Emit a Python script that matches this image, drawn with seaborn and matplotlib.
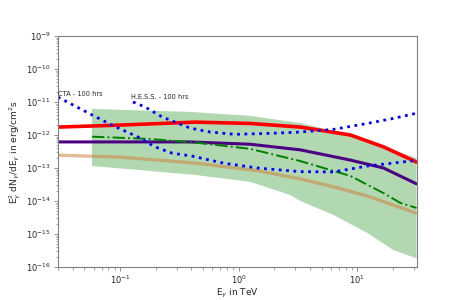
import numpy as np
import pandas as pd
import matplotlib
matplotlib.use("Agg")
import matplotlib.pyplot as plt
import seaborn as sns

# values, log10(E/TeV) and log10(flux)
band_lo_logE = [-1.236, -0.367, 0.097, 0.435, 0.519, 0.797, 1.084, 1.30, 1.498]
band_lo_logF = [-12.94, -13.21, -13.42, -13.82, -14.0, -14.42, -14.97, -15.48, -15.74]
band_hi_logE = [-1.236, -0.409, 0.097, 0.519, 0.772, 1.110, 1.498]
band_hi_logF = [-11.21, -11.30, -11.42, -11.64, -11.85, -12.21, -12.70]

red_logE = [-1.523, -1.0, -0.367, 0.097, 0.519, 0.941, 1.22, 1.498]
red_logF = [-11.76, -11.70, -11.61, -11.65, -11.76, -12.0, -12.36, -12.82]

purple_logE = [-1.523, -0.409, 0.097, 0.519, 0.941, 1.22, 1.498]
purple_logF = [-12.21, -12.21, -12.28, -12.45, -12.76, -13.0, -13.48]

green_logE = [-1.236, -0.747, -0.367, 0.097, 0.519, 0.941, 1.22, 1.363, 1.498]
green_logF = [-12.05, -12.12, -12.23, -12.42, -12.79, -13.24, -13.76, -14.06, -14.21]

tan_logE = [-1.523, -1.0, -0.367, 0.156, 0.519, 0.797, 1.084, 1.30, 1.49]
tan_logF = [-12.61, -12.67, -12.85, -13.08, -13.33, -13.57, -13.85, -14.12, -14.36]

cta_logE = [-1.523, -1.236, -1.068, -0.848, -0.705, -0.561, -0.392, -0.131, 0.156, 0.519, 0.797, 1.084, 1.30, 1.498]
cta_logF = [-10.85, -11.39, -11.70, -12.06, -12.36, -12.55, -12.64, -12.85, -13.0, -13.11, -13.12, -12.94, -12.85, -12.77]

hess_logE = [-0.890, -0.789, -0.646, -0.536, -0.409, -0.241, -0.03, 0.266, 0.519, 0.797, 1.084, 1.30, 1.498]
hess_logF = [-11.0, -11.15, -11.45, -11.61, -11.79, -11.91, -11.98, -11.95, -11.91, -11.83, -11.65, -11.50, -11.34]

sns.set_style("white")
plt.rcParams['font.family'] = ['DejaVu Sans']

fig, ax = plt.subplots(figsize=(4.63, 3.0), dpi=100)
fig.subplots_adjust(left=0.125, right=0.9, bottom=0.11, top=0.88)

def lin(a):
    return 10 ** np.asarray(a)

lo_E = lin(band_lo_logE)
lo_F = lin(band_lo_logF)
hi_E = lin(band_hi_logE)
hi_F = lin(band_hi_logF)
poly_x = np.concatenate([hi_E, lo_E[::-1]])
poly_y = np.concatenate([hi_F, lo_F[::-1]])
ax.fill(poly_x, poly_y, color="green", alpha=0.3, linewidth=0)

def draw(le, lf, **kw):
    df = pd.DataFrame({"E": lin(le), "F": lin(lf)})
    sns.lineplot(data=df, x="E", y="F", ax=ax, **kw)

draw(red_logE, red_logF, color="red", linewidth=2.6)
draw(purple_logE, purple_logF, color="indigo", linewidth=2.2)
draw(green_logE, green_logF, color="green", linewidth=1.4, linestyle="-.")
draw(tan_logE, tan_logF, color="peru", alpha=0.55, linewidth=2.4)
draw(cta_logE, cta_logF, color="blue", linewidth=2.0, linestyle=":")
draw(hess_logE, hess_logF, color="blue", linewidth=2.0, linestyle=":")

ax.set_xscale("log")
ax.set_yscale("log")
ax.set_xlim(0.03, 31.6)
ax.set_ylim(1e-16, 1e-9)

ax.text(0.03, 1.4e-11, "CTA - 100 hrs", fontsize=4.8, ha="left", va="bottom")
ax.text(0.125, 1.15e-11, "H.E.S.S. - 100 hrs", fontsize=4.8, ha="left", va="bottom")

ax.set_xlabel(r"E$_\gamma$ in TeV", fontsize=6.5, labelpad=0.5)
ax.set_ylabel(r"E$_\gamma^2$ dN$_\gamma$/dE$_\gamma$ in erg/cm$^2$s", fontsize=6.5, labelpad=2)
ax.tick_params(axis="both", which="major", labelsize=6, length=3, color="gray", width=0.6, direction="out", pad=2)
ax.tick_params(axis="both", which="minor", length=1.8, color="gray", width=0.5)
ax.tick_params(bottom=True, left=True, which="both")
for s in ax.spines.values():
    s.set_color("gray")
    s.set_linewidth(0.8)

fig.savefig("out.png", dpi=100)
